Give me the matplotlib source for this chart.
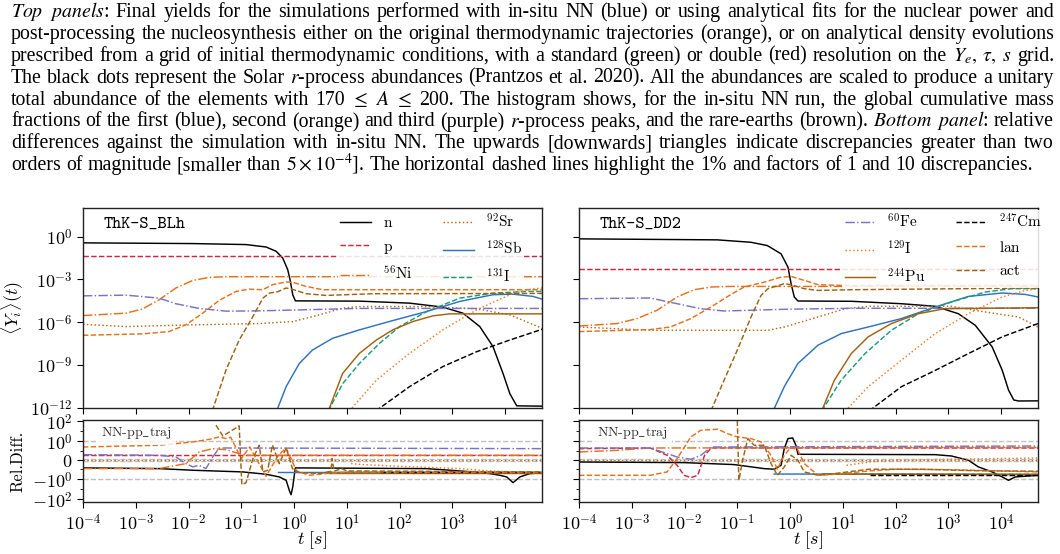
import numpy as np
import matplotlib
matplotlib.use("Agg")
import matplotlib.pyplot as plt

plt.rcParams['mathtext.fontset'] = 'cm'
plt.rcParams['font.family'] = ['cmr10', 'DejaVu Serif']
plt.rcParams['axes.unicode_minus'] = False

# ---------------- caption text ----------------
CAPTION = [
    r"$\mathit{Top}$ $\mathit{panels}$: Final yields for the simulations performed with in-situ NN (blue) or using analytical fits for the nuclear power and",
    r"post-processing the nucleosynthesis either on the original thermodynamic trajectories (orange), or on analytical density evolutions",
    r"prescribed from a grid of initial thermodynamic conditions, with a standard (green) or double (red) resolution on the $Y_e,$ $\tau,$ $s$ grid.",
    r"The black dots represent the Solar $\mathit{r}$-process abundances (Prantzos et al. 2020). All the abundances are scaled to produce a unitary",
    r"total abundance of the elements with 170 $\leq$ $A$ $\leq$ 200. The histogram shows, for the in-situ NN run, the global cumulative mass",
    r"fractions of the first (blue), second (orange) and third (purple) $\mathit{r}$-process peaks, and the rare-earths (brown). $\mathit{Bottom}$ $\mathit{panel}$: relative",
    r"differences against the simulation with in-situ NN. The upwards [downwards] triangles indicate discrepancies greater than two",
    r"orders of magnitude [smaller than $5\times10^{-4}$]. The horizontal dashed lines highlight the 1% and factors of 1 and 10 discrepancies.",
]

# ---------------- series definitions ----------------
SPECIES = ['n', 'p', '56Ni', '92Sr', '128Sb', '131I', '60Fe', '129I', '244Pu', '247Cm', 'lan', 'act']
LABELS = [r'$\mathrm{n}$', r'$\mathrm{p}$', r'$^{56}\mathrm{Ni}$', r'$^{92}\mathrm{Sr}$',
          r'$^{128}\mathrm{Sb}$', r'$^{131}\mathrm{I}$', r'$^{60}\mathrm{Fe}$', r'$^{129}\mathrm{I}$',
          r'$^{244}\mathrm{Pu}$', r'$^{247}\mathrm{Cm}$', r'$\mathrm{lan}$', r'$\mathrm{act}$']
COLORS = ['black', '#d0263f', '#e6711b', '#b36c1c', '#2f73bf', '#1a9d7a',
          '#7b72c8', '#f07a2a', '#a5620e', 'black', '#e8701b', '#9c6414']
STYLES = ['-', '--', '-.', ':', '-', '--', '-.', ':', '-', '--', '--', '--']

PANEL_NAMES = ['ThK-S_BLh', 'ThK-S_DD2']
SUB_LABEL = r'NN-pp$\_$traj'

# ---- top panels: (log10 t [s], log10 <Y>) ----
blh_n = [(-4.0, -0.44), (-1.92, -0.49), (-0.91, -0.56), (-0.53, -0.73), (-0.34, -1.03), (-0.215, -1.5),
         (-0.12, -2.32), (-0.076, -3.02), (-0.025, -4.07), (0.025, -4.5), (1.24, -4.52), (2.19, -4.66),
         (2.82, -4.94), (3.2, -5.36), (3.52, -6.3), (3.77, -7.7), (3.96, -9.58), (4.09, -11.0),
         (4.22, -11.85), (4.7, -11.87)]
blh_p = [(-4.0, -1.33), (4.7, -1.33)]
blh_ni56 = [(-4.0, -5.53), (-3.18, -5.36), (-2.87, -5.06), (-2.56, -4.43), (-2.24, -3.6), (-1.92, -3.07),
            (-1.61, -2.86), (-1.29, -2.81), (4.7, -2.81)]
blh_sr92 = [(-4.0, -6.14), (-3.18, -6.3), (-1.92, -6.18), (-0.66, -6.09), (-0.025, -5.95), (0.48, -5.48),
            (0.92, -5.01), (1.24, -4.9), (2.51, -4.9), (3.46, -5.06), (4.09, -5.48), (4.7, -6.42)]
blh_sb128 = [(-0.33, -12.2), (-0.15, -10.5), (0.1, -8.88), (0.35, -7.94), (0.73, -7.12), (1.24, -6.53),
             (1.87, -5.88), (2.51, -5.25), (3.14, -4.54), (3.77, -4.07), (4.15, -4.03), (4.53, -4.19),
             (4.7, -4.38)]
blh_i131 = [(0.65, -12.2), (0.92, -10.3), (1.24, -8.88), (1.62, -7.47), (2.0, -6.3), (2.51, -5.25),
            (3.14, -4.31), (3.77, -3.96), (4.41, -3.84), (4.7, -3.84)]
blh_fe60 = [(-4.0, -4.15), (-3.18, -4.1), (-2.56, -4.31), (-2.24, -4.7), (-1.8, -5.03), (-1.29, -5.22),
            (-0.66, -5.2), (1.24, -5.03), (4.7, -5.03)]
blh_i129 = [(1.05, -12.2), (1.56, -10.05), (2.19, -8.17), (2.82, -6.53), (3.46, -5.13), (4.09, -4.07),
            (4.41, -3.72), (4.7, -3.6)]
blh_pu244 = [(0.65, -12.2), (0.92, -9.58), (1.24, -8.17), (1.56, -7.24), (1.87, -6.53), (2.25, -5.95),
             (2.63, -5.55), (2.95, -5.41), (4.7, -5.41)]
blh_cm247 = [(1.55, -12.2), (2.19, -10.5), (2.82, -9.1), (3.46, -8.06), (4.09, -7.24), (4.7, -6.49)]
blh_lan = [(-4.0, -6.91), (-2.87, -6.81), (-2.37, -6.65), (-2.05, -6.18), (-1.73, -5.36), (-1.42, -4.47),
           (-1.1, -3.84), (-0.85, -3.68), (-0.59, -3.72), (-0.41, -3.37), (-0.15, -3.18), (-0.025, -3.2),
           (0.23, -3.49), (0.54, -3.72), (4.7, -3.72)]
blh_act = [(-1.55, -12.2), (-1.29, -9.34), (-1.04, -7.24), (-0.78, -5.6), (-0.59, -4.31), (-0.47, -3.96),
           (-0.31, -3.86), (-0.15, -3.6), (-0.025, -3.7), (0.23, -4.0), (0.61, -4.12), (1.5, -4.0),
           (4.7, -3.98)]

dd2_n = [(-4.0, -0.16), (-1.38, -0.23), (-0.74, -0.4), (-0.43, -0.63), (-0.17, -1.21), (-0.04, -2.14),
         (0.02, -3.3), (0.08, -4.23), (0.15, -4.51), (1.16, -4.53), (2.11, -4.7), (2.75, -4.88),
         (3.19, -5.4), (3.51, -6.21), (3.83, -7.72), (4.02, -9.35), (4.14, -10.74), (4.24, -11.44),
         (4.33, -11.51), (4.7, -11.5)]
dd2_p = [(-4.0, -2.3), (4.7, -2.3)]
dd2_ni56 = [(-4.0, -6.26), (-3.28, -6.09), (-2.9, -5.74), (-2.52, -5.16), (-2.14, -4.23), (-1.82, -3.72),
            (-1.49, -3.53), (-1.12, -3.49), (4.7, -3.49)]
dd2_sr92 = [(-4.0, -6.33), (-2.65, -6.56), (-0.42, -6.56), (-0.11, -6.33), (0.53, -5.63), (1.04, -5.05),
            (1.5, -4.88), (3.06, -4.88), (3.7, -5.28), (4.33, -5.63), (4.7, -6.33)]
dd2_sb128 = [(-0.32, -12.2), (-0.11, -10.51), (0.15, -8.88), (0.53, -7.6), (0.97, -6.79), (1.48, -6.33),
             (2.11, -5.74), (2.75, -4.93), (3.38, -4.19), (4.02, -3.95), (4.46, -4.05), (4.7, -4.23)]
dd2_i131 = [(0.6, -12.2), (0.97, -10.05), (1.42, -8.19), (1.92, -6.56), (2.43, -5.4), (3.06, -4.58),
            (3.7, -3.88), (4.2, -3.65), (4.7, -3.65)]
dd2_fe60 = [(-4.0, -4.35), (-2.65, -4.3), (-2.14, -4.7), (-1.69, -5.05), (-1.25, -5.21), (-0.11, -5.09),
            (1.16, -5.02), (4.7, -5.02)]
dd2_i129 = [(1.05, -12.2), (1.48, -10.51), (2.11, -8.65), (2.75, -6.79), (3.38, -5.4), (4.02, -4.23),
            (4.46, -3.77), (4.7, -3.65)]
dd2_pu244 = [(0.6, -12.2), (0.84, -10.05), (1.16, -8.19), (1.48, -7.02), (1.92, -6.09), (2.43, -5.4),
             (2.93, -5.05), (4.7, -4.98)]
dd2_cm247 = [(1.5, -12.2), (2.11, -10.51), (2.75, -9.37), (3.38, -8.19), (4.02, -7.02), (4.7, -6.09)]
dd2_lan = [(-4.0, -6.65), (-2.65, -6.51), (-2.27, -6.33), (-1.88, -5.74), (-1.5, -4.93), (-1.12, -4.05),
           (-0.87, -3.53), (-0.49, -3.19), (-0.17, -2.84), (0.02, -2.79), (0.27, -3.07), (0.53, -3.37),
           (1.0, -3.42), (4.7, -3.42)]
dd2_act = [(-1.5, -12.2), (-1.25, -10.05), (-1.0, -7.95), (-0.74, -5.63), (-0.55, -4.12), (-0.42, -3.65),
           (-0.11, -3.3), (0.02, -3.37), (0.27, -3.65), (0.53, -3.77), (1.16, -3.72), (4.7, -3.6)]

# ---- bottom panels: (log10 t [s], relative difference) ----
blh_n_rd = [(-4.0, -0.085), (-2.56, -0.093), (-1.92, -0.126), (-0.97, -0.185), (-0.53, -0.316),
            (-0.28, -0.58), (-0.15, -1.26), (-0.09, -12.6), (-0.057, -34.0), (-0.025, -5.9), (0.0, -0.58),
            (0.025, -0.085), (2.51, -0.093), (3.14, -0.147), (3.71, -0.27), (3.9, -0.4), (4.03, -0.58),
            (4.15, -2.15), (4.28, -0.58), (4.47, -0.27), (4.7, -0.23)]
blh_p_rd = [(-4.0, 0.063), (4.7, 0.063)]
blh_ni56_rd = [(-4.0, -0.093), (-2.56, -0.093), (-2.05, -0.037), (-1.8, 0.093), (-1.54, 0.185),
               (-1.29, 0.147), (-1.04, 0.074), (-0.91, 0.056), (4.7, 0.056)]
blh_sr92_rd = [(-4.0, 0.005), (4.7, 0.005)]
blh_sb128_rd = [(-0.3, -0.2), (4.7, -0.2)]
blh_i131_rd = [(0.66, -0.2), (4.7, -0.2)]
blh_fe60_rd = [(-4.0, 0.063), (-2.56, 0.056), (-2.24, 0.037), (-2.05, -0.037), (-1.92, -0.074),
               (-1.8, -0.056), (-1.67, -0.093), (-1.54, 0.037), (-1.42, 0.215), (-1.29, 0.215), (4.7, 0.185)]
blh_i129_rd = [(1.08, -0.037), (1.3, -0.048), (2.0, -0.067), (3.14, -0.093), (3.8, -0.158), (4.7, -0.215)]
blh_pu244_rd = [(0.66, -0.22), (4.7, -0.22)]
blh_cm247_rd = [(1.62, -0.2), (4.7, -0.2)]
blh_lan_rd = [(-4.0, 0.27), (-2.56, 0.4), (-1.92, 0.86), (-1.6, 1.58), (-1.42, 2.7), (-1.29, 1.85),
              (-1.2, 2.5), (-1.0, 0.019), (-0.84, 0.27), (-0.53, -0.5), (-0.3, 0.056), (-0.15, 0.215),
              (0.05, -0.158), (0.3, -0.4), (0.6, -0.27), (1.0, -0.185), (4.7, -0.215)]
blh_act_rd = [(-1.48, 39.8), (-1.35, 3.4), (-1.2, 10.0), (-1.04, 34.0), (-0.99, -3.4), (-0.91, -2.2),
              (-0.78, 0.019), (-0.66, 0.4), (-0.59, -0.185), (-0.5, -0.126), (-0.41, 0.43), (-0.28, -0.037),
              (-0.15, 0.215), (-0.03, -0.093), (0.1, -0.215), (0.5, -0.27), (0.7, -0.158), (0.72, 0.019),
              (0.76, -0.158), (0.9, -0.093), (1.0, -0.147), (4.7, -0.185)]

dd2_n_rd = [(-4.0, -0.019), (-2.01, -0.026), (-1.06, -0.048), (-0.49, -0.093), (-0.3, -0.1), (-0.17, -0.056),
            (-0.11, 0.185), (-0.04, 1.85), (0.05, 2.15), (0.11, 0.4), (0.15, 0.067), (2.75, 0.063),
            (3.06, 0.048), (3.38, 0.0), (3.57, -0.074), (3.83, -0.185), (4.02, -0.58), (4.14, -1.26),
            (4.27, -0.58), (4.7, -0.4)]
dd2_p_rd = [(-4.0, 0.185), (-2.65, 0.215), (-2.33, 0.056), (-2.14, -0.056), (-2.01, -0.4), (-1.88, -0.68),
            (-1.75, -0.4), (-1.62, 0.056), (-1.49, 0.215), (4.7, 0.215)]
dd2_ni56_rd = [(-4.0, 0.093), (-3.28, 0.126), (-2.65, 0.215), (4.7, 0.24)]
dd2_sr92_rd = [(-4.0, 0.005), (4.7, 0.005)]
dd2_sb128_rd = [(-0.3, -0.3), (4.7, -0.33)]
dd2_i131_rd = [(0.62, -0.3), (4.7, -0.33)]
dd2_fe60_rd = [(-4.0, 0.215), (-2.65, 0.215), (-2.14, 0.037), (-1.88, 0.011), (-1.69, 0.056),
               (-1.49, 0.27), (4.7, 0.34)]
dd2_i129_rd = [(1.07, -0.056), (1.5, -0.019), (2.0, 0.0), (3.0, 0.011), (4.7, 0.026)]
dd2_pu244_rd = [(0.62, -0.3), (4.7, -0.33)]
dd2_cm247_rd = [(1.51, -0.4), (4.7, -0.4)]
dd2_lan_rd = [(-4.0, -0.4), (-2.65, -0.4), (-2.33, -0.185), (-2.14, 0.019), (-1.88, 2.7), (-1.69, 12.6),
              (-1.37, 15.8), (-1.19, 5.8), (-1.0, 2.7), (-0.74, 1.85), (-0.55, 0.86), (-0.36, 0.056),
              (-0.24, -0.1), (-0.11, 0.056), (0.02, 0.27), (0.15, 0.126), (0.27, -0.037), (0.53, -0.4),
              (0.84, -0.32), (1.5, -0.147), (2.0, -0.1), (3.0, -0.11), (4.7, -0.185)]
dd2_act_rd = [(-1.12, 126.0), (-1.05, 186.0), (-1.0, 126.0), (-0.97, -1.26), (-0.9, 0.0), (-0.8, 1.85),
              (-0.68, 0.4), (-0.49, 0.4), (-0.36, -0.037), (-0.24, -0.4), (-0.11, -0.074), (0.02, 0.056),
              (0.15, 0.0), (0.27, -0.185), (0.53, -0.4), (0.84, -0.27), (1.5, -0.1), (2.5, -0.1),
              (3.5, -0.14), (4.7, -0.158)]

TOP_DATA = [
    [blh_n, blh_p, blh_ni56, blh_sr92, blh_sb128, blh_i131, blh_fe60, blh_i129, blh_pu244, blh_cm247, blh_lan, blh_act],
    [dd2_n, dd2_p, dd2_ni56, dd2_sr92, dd2_sb128, dd2_i131, dd2_fe60, dd2_i129, dd2_pu244, dd2_cm247, dd2_lan, dd2_act],
]
BOT_DATA = [
    [blh_n_rd, blh_p_rd, blh_ni56_rd, blh_sr92_rd, blh_sb128_rd, blh_i131_rd, blh_fe60_rd, blh_i129_rd,
     blh_pu244_rd, blh_cm247_rd, blh_lan_rd, blh_act_rd],
    [dd2_n_rd, dd2_p_rd, dd2_ni56_rd, dd2_sr92_rd, dd2_sb128_rd, dd2_i131_rd, dd2_fe60_rd, dd2_i129_rd,
     dd2_pu244_rd, dd2_cm247_rd, dd2_lan_rd, dd2_act_rd],
]

XTICKS = [1e-4, 1e-3, 1e-2, 1e-1, 1e0, 1e1, 1e2, 1e3, 1e4]
XTICKLABELS = [r'$10^{-4}$', r'$10^{-3}$', r'$10^{-2}$', r'$10^{-1}$', r'$10^{0}$', r'$10^{1}$',
               r'$10^{2}$', r'$10^{3}$', r'$10^{4}$']
YTICKS_TOP = [1e0, 1e-3, 1e-6, 1e-9, 1e-12]
YTICKLABELS_TOP = [r'$10^{0}$', r'$10^{-3}$', r'$10^{-6}$', r'$10^{-9}$', r'$10^{-12}$']
YTICKS_BOT = [1e2, 1e0, 0, -1e0, -1e2]
YTICKLABELS_BOT = [r'$10^{2}$', r'$10^{0}$', r'$0$', r'$-10^{0}$', r'$-10^{2}$']
YMINOR_BOT = [-10, -0.1, 0.1, 10]
REF_LINES = [1.0, 0.01, -0.01, -1.0]

# ---------------- figure ----------------
W, H = 1060, 554
fig = plt.figure(figsize=(W / 100, H / 100), dpi=100)
renderer = fig.canvas.get_renderer()

CAP_FONT = 'Liberation Serif'

def measure(s, fs):
    t = fig.text(0, 0, s, fontsize=fs, family=CAP_FONT, math_fontfamily='stix')
    w = t.get_window_extent(renderer).width
    t.remove()
    return w

# caption font size from natural width of last (unjustified) line
base_fs = 11.0
last_words = CAPTION[-1].split(' ')
sp = measure('a a', base_fs) - measure('aa', base_fs)
nat = sum(measure(w, base_fs) for w in last_words) + sp * (len(last_words) - 1)
cap_fs = base_fs * (1017.0 / nat)

x_left, x_right = 11.0, 1054.0
for i, line in enumerate(CAPTION):
    words = line.split(' ')
    widths = [measure(w, cap_fs) for w in words]
    if i < len(CAPTION) - 1:
        gap = (x_right - x_left - sum(widths)) / (len(words) - 1)
    else:
        gap = sp * cap_fs / base_fs
    x = x_left
    ybase = 17.0 + 21.9 * i
    for w, wd in zip(words, widths):
        fig.text(x / W, 1 - ybase / H, w, fontsize=cap_fs, family=CAP_FONT,
                 math_fontfamily='stix', ha='left', va='baseline')
        x += wd + gap

# axes rectangles (pixels)
lefts = [83, 579]
width = 459
top_rect = (208, 408)
bot_rect = (420, 502)
legend_anchor = [(1 - 16 / 459, 0.998), (1 + 8 / 459, 0.998)]

for k in range(2):
    axt = fig.add_axes([lefts[k] / W, 1 - top_rect[1] / H, width / W, (top_rect[1] - top_rect[0]) / H])
    axb = fig.add_axes([lefts[k] / W, 1 - bot_rect[1] / H, width / W, (bot_rect[1] - bot_rect[0]) / H])

    handles = []
    for j in range(len(SPECIES)):
        d = np.array(TOP_DATA[k][j])
        ln, = axt.plot(10 ** d[:, 0], 10 ** d[:, 1], color=COLORS[j], ls=STYLES[j], lw=1.05,
                       label=LABELS[j])
        handles.append(ln)
        r = np.array(BOT_DATA[k][j])
        axb.plot(10 ** r[:, 0], r[:, 1], color=COLORS[j], ls=STYLES[j], lw=1.05)

    axt.set_xscale('log')
    axt.set_yscale('log')
    axt.set_xlim(1e-4, 5e4)
    axt.set_ylim(1e-12, 1e2)
    axt.set_xticks(XTICKS)
    axt.set_xticklabels([])
    axt.xaxis.set_minor_locator(matplotlib.ticker.NullLocator())
    axt.set_yticks(YTICKS_TOP)
    axt.yaxis.set_minor_locator(matplotlib.ticker.NullLocator())
    if k == 0:
        axt.set_yticklabels(YTICKLABELS_TOP)
        axt.set_ylabel(r'$\langle Y_i\rangle(t)$', fontsize=13)
        axt.yaxis.set_label_coords(-0.124, 0.5)
    else:
        axt.set_yticklabels([])
    axt.text(0.044, 0.90, PANEL_NAMES[k], transform=axt.transAxes, family='cmtt10', fontsize=12.5,
             ha='left', va='baseline')

    sel = handles[0:6] if k == 0 else handles[6:12]
    axt.legend(handles=sel, ncol=2, loc='upper right', bbox_to_anchor=legend_anchor[k], fontsize=11,
               frameon=True, framealpha=0.85, edgecolor='none', fancybox=False, handlelength=2.0,
               labelspacing=0.62, columnspacing=2.0, borderaxespad=0.1, borderpad=0.15,
               handletextpad=0.8)

    for v in REF_LINES:
        axb.axhline(v, color='#c0c0c0', ls='--', lw=1.0, zorder=0)
    axb.set_xscale('log')
    axb.set_yscale('symlog', linthresh=0.1, linscale=0.8)
    axb.set_xlim(1e-4, 5e4)
    axb.set_ylim(-180, 130)
    axb.set_xticks(XTICKS)
    axb.set_xticklabels(XTICKLABELS)
    axb.xaxis.set_minor_locator(matplotlib.ticker.NullLocator())
    axb.set_yticks(YTICKS_BOT)
    axb.set_yticks(YMINOR_BOT, minor=True)
    if k == 0:
        axb.set_yticklabels(YTICKLABELS_BOT)
        axb.set_ylabel('Rel.Diff.', fontsize=12)
        axb.yaxis.set_label_coords(-0.126, 0.5)
    else:
        axb.set_yticklabels([])
    axb.set_xlabel(r'$t\ [s]$', fontsize=13)
    axb.xaxis.set_label_coords(0.5, -0.33)
    axb.text(0.04, 0.84, SUB_LABEL, transform=axb.transAxes, fontsize=10, color='#333333',
             ha='left', va='center',
             bbox=dict(boxstyle='square,pad=0.25', facecolor='white', edgecolor='none', alpha=0.8))

    for ax in (axt, axb):
        ax.tick_params(axis='both', which='major', labelsize=13, length=4, width=0.8, direction='out')
        ax.tick_params(axis='both', which='minor', length=2.5, width=0.6)
        for s in ax.spines.values():
            s.set_color('#222222')
            s.set_linewidth(1.0)

fig.savefig('out.png', dpi=100)
